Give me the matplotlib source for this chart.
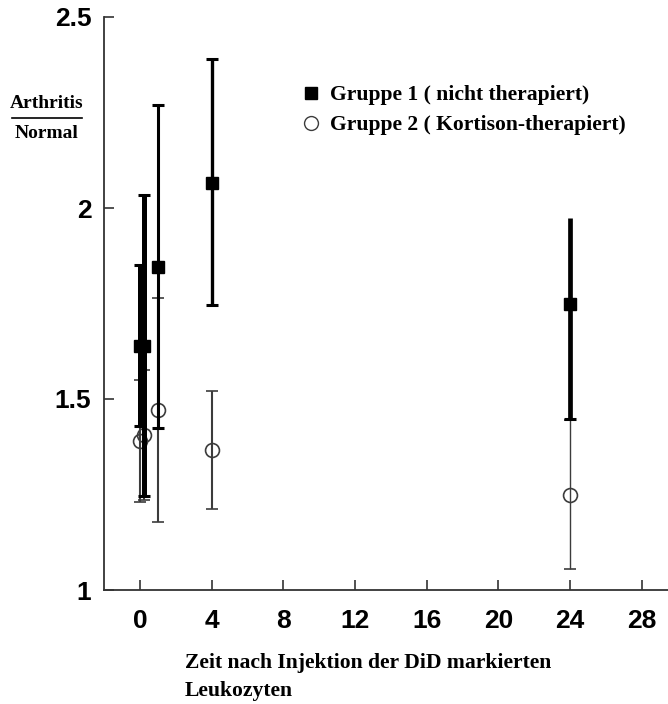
import numpy as np
import matplotlib
matplotlib.use('Agg')
import matplotlib.pyplot as plt
from matplotlib.lines import Line2D

# Gruppe 1 (nicht therapiert)
g1_time = [0, 0.25, 1, 4, 24]
g1_mean = [1.64, 1.64, 1.845, 2.066, 1.748]
g1_err_lo = [0.21, 0.395, 0.42, 0.32, 0.30]
g1_err_hi = [0.21, 0.395, 0.425, 0.325, 0.226]
g1_top_cap = [True, True, True, True, False]

# Gruppe 2 (Kortison-therapiert)
g2_time = [0, 0.25, 1, 4, 24]
g2_mean = [1.39, 1.405, 1.471, 1.367, 1.249]
g2_err = [0.16, 0.17, 0.293, 0.155, 0.195]

xticks = [0, 4, 8, 12, 16, 20, 24, 28]
yticks = [1, 1.5, 2, 2.5]
ytick_labels = ['1', '1.5', '2', '2.5']

legend_labels = ['Gruppe 1 ( nicht therapiert)', 'Gruppe 2 ( Kortison-therapiert)']

W, H = 668, 704
fig = plt.figure(figsize=(W / 100, H / 100), dpi=100)
ax = fig.add_axes([104 / W, (H - 590) / H, (677.6 - 104) / W, (590 - 17) / H])
ax.set_xlim(-2, 30)
ax.set_ylim(1, 2.5)

# group 2 first so the black bars sit on top
g2_lw = [1.5, 1.5, 1.5, 1.5, 1.0]
for i in range(len(g2_time)):
    ax.errorbar(g2_time[i], g2_mean[i], yerr=g2_err[i], fmt='o', color='#3c3c3c',
                ecolor='#3c3c3c', elinewidth=g2_lw[i], capsize=4, capthick=2,
                ms=10, mfc='none', mec='#3c3c3c', mew=1.2, zorder=2)

g1_lw = [3.6, 3.6, 2.2, 2.4, 3.4]
for i in range(len(g1_time)):
    hi = g1_err_hi[i] if g1_top_cap[i] else 0
    ax.errorbar(g1_time[i], g1_mean[i], yerr=[[g1_err_lo[i]], [hi]], fmt='s',
                color='black', ecolor='black', elinewidth=g1_lw[i], capsize=4, capthick=2.2,
                ms=9, mfc='black', mec='black', zorder=3)
    if not g1_top_cap[i]:
        # upper whisker without a cap
        ax.vlines(g1_time[i], g1_mean[i], g1_mean[i] + g1_err_hi[i], color='black',
                  lw=g1_lw[i], zorder=3)

for s in ['top', 'right']:
    ax.spines[s].set_visible(False)
for s in ['left', 'bottom']:
    ax.spines[s].set_color('#333333')
    ax.spines[s].set_linewidth(1.3)

ax.set_xticks(xticks)
ax.set_yticks(yticks)
ax.set_yticklabels(ytick_labels)
ax.tick_params(direction='in', length=7, width=1.2, color='#333333')
ax.tick_params(axis='x', pad=14)
ax.tick_params(axis='y', pad=9)
for lab in ax.get_xticklabels() + ax.get_yticklabels():
    lab.set_fontfamily('Liberation Sans')
    lab.set_fontweight('bold')
    lab.set_fontsize(19)

serif = dict(family='Liberation Serif', weight='bold', size=14)
serif_big = dict(family='Liberation Serif', weight='bold', size=15.6)

handles = [Line2D([], [], ls='none', marker='s', ms=8, color='black'),
           Line2D([], [], ls='none', marker='o', ms=10, mfc='none', mec='#3c3c3c', mew=1.0)]
ax.legend(handles, legend_labels, loc='upper left', bbox_to_anchor=(302 / W, 1 - 85 / H),
          bbox_transform=fig.transFigure, frameon=False, prop=serif_big,
          handlelength=0.8, handletextpad=0.5, labelspacing=0.45, borderpad=0, borderaxespad=0)

# y label as a fraction
fig.text(47 / W, 1 - 103 / H, 'Arthritis', ha='center', va='center', **serif)
fig.add_artist(Line2D([12 / W, 82 / W], [1 - 118 / H, 1 - 118 / H], color='black', lw=1.2))
fig.text(47 / W, 1 - 133 / H, 'Normal', ha='center', va='center', **serif)

# x label
fig.text(185 / W, 1 - 663 / H, 'Zeit nach Injektion der DiD markierten', ha='left', va='center', **serif_big)
fig.text(185 / W, 1 - 691 / H, 'Leukozyten', ha='left', va='center', **serif_big)

fig.savefig('out.png', dpi=100)
